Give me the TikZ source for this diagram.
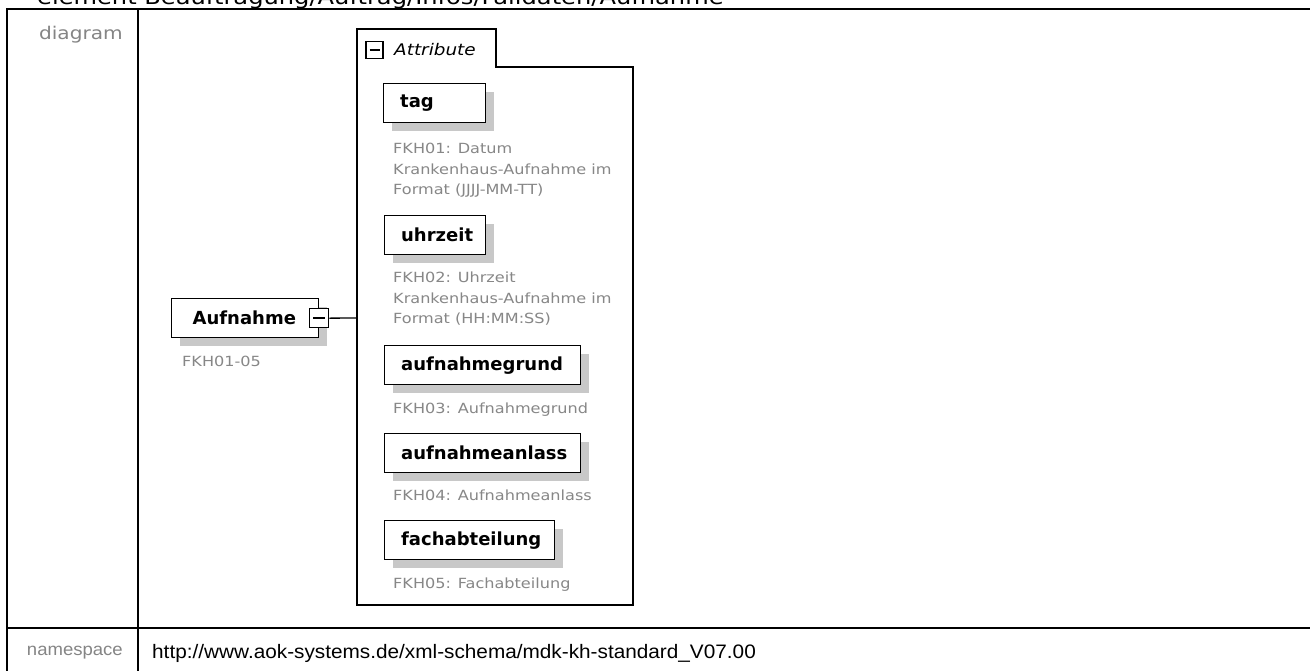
\documentclass[tikz,border=0pt]{standalone}
\usepackage{fontspec}
\setmainfont{DejaVu Sans}
\newfontfamily\descfont[FakeStretch=1.15]{DejaVu Sans}
\newfontfamily\urlfont[FakeStretch=1.065]{Liberation Sans}
\usetikzlibrary{shadows}
\definecolor{descgray}{HTML}{878787}
\definecolor{lblgray}{HTML}{858585}
\definecolor{shadowgray}{HTML}{C8C8C8}
\begin{document}
\begin{tikzpicture}[x=1pt,y=-1pt,
  tbl/.style={line width=2.5pt, line cap=rect},
  elem/.style={draw=black, line width=1.3pt, fill=white, anchor=north west,
    inner xsep=16.5pt, inner ysep=0pt, minimum height=39pt, text width=#1,
    align=left, font=\fontsize{18}{21}\selectfont\bfseries,
    drop shadow={shadow xshift=8pt, shadow yshift=-8pt, fill=shadowgray, opacity=1}},
  iconbox/.style={draw=black, line width=1.3pt, fill=white, minimum size=19pt, inner sep=0pt,
    path picture={\draw[line width=1.4pt] ([xshift=3.5pt]path picture bounding box.west) -- ([xshift=-3.5pt]path picture bounding box.east);}},
  desc/.style={anchor=north west, inner sep=0pt, align=left, text=descgray,
    font=\descfont\fontsize{14}{20.5}\selectfont},
  lbl/.style={anchor=east, inner sep=0pt, text=lblgray},
  conn/.style={line width=1.3pt},
  frame/.style={line width=1.3pt}
]
\path[use as bounding box, clip] (0,0) rectangle (1310,670);
\fill[white] (0,0) rectangle (1310,670);

% title (cut off at the top, as in the reference)
\node[anchor=base west, inner sep=0pt, font=\descfont\fontsize{21}{24}\selectfont] (title) at (37,4)
  {element Beauftragung/Auftrag/Infos/Falldaten/Aufnahme};

% table
\draw[tbl] (7,672) -- (7,9) -- (1312,9);
\draw[tbl] (138,9) -- (138,672);
\draw[tbl] (7,628) -- (1312,628);
\node[lbl, font=\descfont\fontsize{17.5}{21}\selectfont] (ldiagram) at (123,35) {diagram};
\node[lbl, font=\urlfont\fontsize{17.4}{20}\selectfont] (lns) at (123,653) {namespace};
\node[anchor=west, inner sep=0pt, font=\urlfont\fontsize{19.5}{22}\selectfont] (url) at (152,653)
  {http://www.aok-systems.de/xml-schema/mdk-kh-standard\_V07.00};

% attribute group frame with tab
\draw[frame] (357,605) -- (357,29) -- (496,29) -- (496,67) -- (633,67) -- (633,605) -- cycle;
\node[iconbox, minimum size=17pt] (ticon) at (374.5,50) {};
\node[anchor=west, inner sep=0pt, font=\descfont\fontsize{16}{19}\selectfont\itshape] (tablabel) at (394,50) {Attribute};
\coordinate (attrwest) at (357,318);

% main element
\node[elem=105, inner xsep=21pt] (aufnahme) at (171,298) {\mbox{Aufnahme}};
\node[iconbox] (aicon) at (aufnahme.east) {};
\draw[conn] (aicon.east) -- (attrwest);
\node[desc] (daufnahme) at (182,356) {FKH01-05};

% attributes
\node[elem=69] (tag) at (383,83) {\mbox{tag}};
\node[desc] (dtag) at (393,143) {FKH01: Datum\\Krankenhaus-Aufnahme im\\Format (JJJJ-MM-TT)};

\node[elem=68] (uhrzeit) at (384,215) {\mbox{uhrzeit}};
\node[desc] (duhrzeit) at (393,272) {FKH02: Uhrzeit\\Krankenhaus-Aufnahme im\\Format (HH:MM:SS)};

\node[elem=163] (grund) at (384,345) {\mbox{aufnahmegrund}};
\node[desc] (dgrund) at (393,403) {FKH03: Aufnahmegrund};

\node[elem=163] (anlass) at (384,433) {\mbox{aufnahmeanlass}};
\node[desc] (danlass) at (393,490) {FKH04: Aufnahmeanlass};

\node[elem=137] (fach) at (384,520) {\mbox{fachabteilung}};
\node[desc] (dfach) at (393,578) {FKH05: Fachabteilung};
\end{tikzpicture}
\end{document}
